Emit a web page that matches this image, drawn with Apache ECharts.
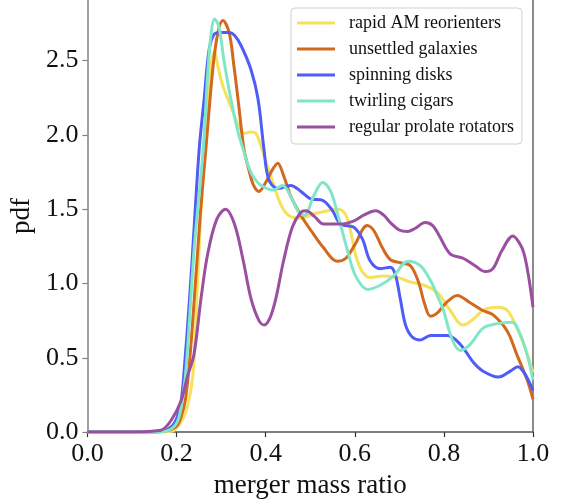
<!DOCTYPE html>
<html>
<head>
<meta charset="utf-8">
<script src="https://cdn.jsdelivr.net/npm/echarts@6/dist/echarts.min.js"></script>
<style>
html,body{margin:0;padding:0;background:#fff;}
#chart{width:567px;height:504px;}
</style>
</head>
<body>
<div id="chart"></div>
<script>
const seriesNames = ['rapid AM reorienters', 'unsettled galaxies', 'spinning disks', 'twirling cigars', 'regular prolate rotators'];
const xTicks = [0.0, 0.2, 0.4, 0.6, 0.8, 1.0];
const yTicks = [0.0, 0.5, 1.0, 1.5, 2.0, 2.5];

const rapidX = [0, 0.15, 0.19, 0.2, 0.213, 0.226, 0.237, 0.245, 0.255, 0.265, 0.273, 0.28, 0.285, 0.293, 0.304, 0.322, 0.34, 0.351, 0.367, 0.378, 0.389, 0.414, 0.436, 0.456, 0.479, 0.51, 0.54, 0.564, 0.58, 0.591, 0.602, 0.617, 0.635, 0.664, 0.696, 0.725, 0.754, 0.785, 0.814, 0.843, 0.866, 0.888, 0.92, 0.942, 0.964, 0.982, 1.0];
const rapidY = [0, 0, 0.005, 0.03, 0.08, 0.19, 0.39, 0.85, 1.5, 1.95, 2.3, 2.52, 2.56, 2.46, 2.33, 2.19, 2.06, 2.01, 2.02, 2.01, 1.93, 1.70, 1.52, 1.45, 1.44, 1.47, 1.49, 1.50, 1.46, 1.35, 1.19, 1.08, 1.04, 1.05, 1.04, 1.01, 0.99, 0.94, 0.82, 0.72, 0.76, 0.82, 0.84, 0.82, 0.70, 0.57, 0.40];

const unsettledX = [0, 0.15, 0.18, 0.2, 0.21, 0.22, 0.23, 0.24, 0.253, 0.266, 0.282, 0.293, 0.304, 0.318, 0.329, 0.34, 0.351, 0.362, 0.373, 0.385, 0.4, 0.416, 0.427, 0.441, 0.456, 0.479, 0.501, 0.53, 0.561, 0.58, 0.6, 0.628, 0.642, 0.662, 0.68, 0.702, 0.725, 0.743, 0.757, 0.77, 0.785, 0.805, 0.83, 0.859, 0.886, 0.91, 0.942, 0.964, 0.987, 1.0];
const unsettledY = [0, 0, 0.01, 0.04, 0.1, 0.22, 0.5, 0.9, 1.45, 1.91, 2.46, 2.69, 2.77, 2.69, 2.46, 2.19, 1.91, 1.77, 1.66, 1.62, 1.68, 1.77, 1.81, 1.72, 1.59, 1.46, 1.36, 1.24, 1.15, 1.17, 1.26, 1.39, 1.36, 1.24, 1.16, 1.14, 1.12, 1.01, 0.86, 0.78, 0.80, 0.87, 0.92, 0.87, 0.82, 0.79, 0.68, 0.52, 0.35, 0.22];

const spinningX = [0, 0.15, 0.17, 0.19, 0.2, 0.21, 0.217, 0.23, 0.24, 0.251, 0.262, 0.273, 0.285, 0.3, 0.318, 0.33, 0.345, 0.367, 0.383, 0.396, 0.407, 0.427, 0.456, 0.479, 0.501, 0.528, 0.55, 0.568, 0.597, 0.617, 0.635, 0.658, 0.68, 0.691, 0.702, 0.714, 0.729, 0.747, 0.77, 0.808, 0.837, 0.866, 0.888, 0.922, 0.949, 0.966, 0.982, 1.0];
const spinningY = [0, 0, 0.005, 0.04, 0.09, 0.2, 0.41, 0.93, 1.40, 1.91, 2.24, 2.57, 2.68, 2.69, 2.69, 2.67, 2.60, 2.44, 2.24, 1.91, 1.70, 1.64, 1.66, 1.62, 1.57, 1.56, 1.49, 1.40, 1.38, 1.30, 1.15, 1.10, 1.11, 1.06, 0.90, 0.72, 0.64, 0.62, 0.65, 0.65, 0.59, 0.47, 0.41, 0.37, 0.41, 0.44, 0.39, 0.28];

const twirlingX = [0, 0.15, 0.18, 0.2, 0.21, 0.22, 0.23, 0.24, 0.26, 0.271, 0.278, 0.285, 0.295, 0.306, 0.322, 0.338, 0.35, 0.36, 0.372, 0.39, 0.418, 0.438, 0.456, 0.474, 0.487, 0.508, 0.528, 0.546, 0.564, 0.584, 0.602, 0.629, 0.658, 0.687, 0.72, 0.747, 0.77, 0.785, 0.799, 0.819, 0.837, 0.859, 0.888, 0.92, 0.953, 0.971, 0.987, 1.0];
const twirlingY = [0, 0, 0.01, 0.06, 0.16, 0.38, 0.8, 1.25, 1.91, 2.46, 2.69, 2.78, 2.73, 2.51, 2.24, 2.02, 1.90, 1.80, 1.72, 1.66, 1.63, 1.66, 1.59, 1.48, 1.46, 1.59, 1.68, 1.62, 1.44, 1.22, 1.05, 0.96, 0.99, 1.05, 1.15, 1.12, 1.02, 0.92, 0.82, 0.62, 0.55, 0.59, 0.70, 0.73, 0.74, 0.66, 0.52, 0.35];

const prolateX = [0, 0.13, 0.15, 0.166, 0.188, 0.21, 0.225, 0.239, 0.255, 0.27, 0.29, 0.31, 0.33, 0.35, 0.367, 0.385, 0.397, 0.41, 0.423, 0.44, 0.46, 0.479, 0.49, 0.51, 0.53, 0.568, 0.597, 0.62, 0.647, 0.665, 0.68, 0.7, 0.718, 0.735, 0.758, 0.775, 0.79, 0.814, 0.843, 0.87, 0.893, 0.91, 0.93, 0.955, 0.97, 0.98, 0.99, 1.0];
const prolateY = [0, 0.003, 0.008, 0.013, 0.08, 0.21, 0.38, 0.52, 0.90, 1.2, 1.43, 1.50, 1.40, 1.15, 0.90, 0.75, 0.72, 0.77, 0.90, 1.15, 1.38, 1.48, 1.49, 1.45, 1.40, 1.40, 1.42, 1.46, 1.49, 1.46, 1.41, 1.36, 1.35, 1.37, 1.41, 1.39, 1.32, 1.20, 1.17, 1.12, 1.08, 1.10, 1.22, 1.32, 1.27, 1.2, 1.05, 0.84];

const colors = ['#f5e25a', '#d2691e', '#4f5cf7', '#80e6c8', '#9a4fa0'];
const xs = [rapidX, unsettledX, spinningX, twirlingX, prolateX];
const ys = [rapidY, unsettledY, spinningY, twirlingY, prolateY];

const FONT = '"Liberation Serif", "Times New Roman", serif';
const zip = (a, b) => a.map((v, i) => [v, b[i]]);

const chart = echarts.init(document.getElementById('chart'), null, {renderer: 'canvas'});
chart.setOption({
  animation: false,
  backgroundColor: '#ffffff',
  grid: {left: 86, right: 34, top: 0, bottom: 69, containLabel: false},
  legend: {
    orient: 'vertical',
    left: 291,
    top: 8,
    data: seriesNames,
    icon: 'rect',
    itemWidth: 38,
    itemHeight: 3,
    itemGap: 6,
    padding: [5, 8, 7, 6],
    backgroundColor: 'rgba(255,255,255,0.85)',
    borderColor: '#d0d0d0',
    borderWidth: 1,
    borderRadius: 4,
    textStyle: {fontFamily: FONT, fontSize: 18, color: '#111', lineHeight: 20, padding: [0, 0, 0, 9]}
  },
  xAxis: {
    type: 'value', min: 0, max: 1, interval: 0.2,
    name: 'merger mass ratio', nameLocation: 'middle', nameGap: 34,
    nameTextStyle: {fontFamily: FONT, fontSize: 27, color: '#111'},
    axisLine: {show: true, lineStyle: {color: '#555', width: 1.5}},
    axisTick: {show: true, length: 5, lineStyle: {color: '#333', width: 1.2}},
    axisLabel: {fontFamily: FONT, fontSize: 26, color: '#111', margin: 9,
      formatter: v => xTicks.some(t => Math.abs(t - v) < 1e-9) ? v.toFixed(1) : ''},
    splitLine: {show: false}
  },
  yAxis: [{
    type: 'value', min: 0, max: 2.908, interval: 0.5,
    name: 'pdf', nameLocation: 'middle', nameGap: 50,
    nameTextStyle: {fontFamily: FONT, fontSize: 27, color: '#111'},
    axisLine: {show: true, lineStyle: {color: '#808080', width: 1.5}},
    axisTick: {show: true, length: 5, lineStyle: {color: '#808080', width: 1.2}},
    axisLabel: {fontFamily: FONT, fontSize: 26, color: '#111', margin: 9, showMaxLabel: false,
      formatter: v => yTicks.some(t => Math.abs(t - v) < 1e-9) ? v.toFixed(1) : ''},
    splitLine: {show: false}
  }, {
    type: 'value', min: 0, max: 2.908, position: 'right',
    axisLine: {show: true, lineStyle: {color: '#666', width: 1.5}},
    axisTick: {show: false}, axisLabel: {show: false}, splitLine: {show: false}
  }],
  series: seriesNames.map((name, i) => ({
    name: name,
    type: 'line',
    data: zip(xs[i], ys[i]),
    showSymbol: false,
    symbol: 'none',
    smooth: 0.35,
    color: colors[i],
    lineStyle: {color: colors[i], width: 3},
    z: 2 + i
  }))
});
</script>
</body>
</html>
